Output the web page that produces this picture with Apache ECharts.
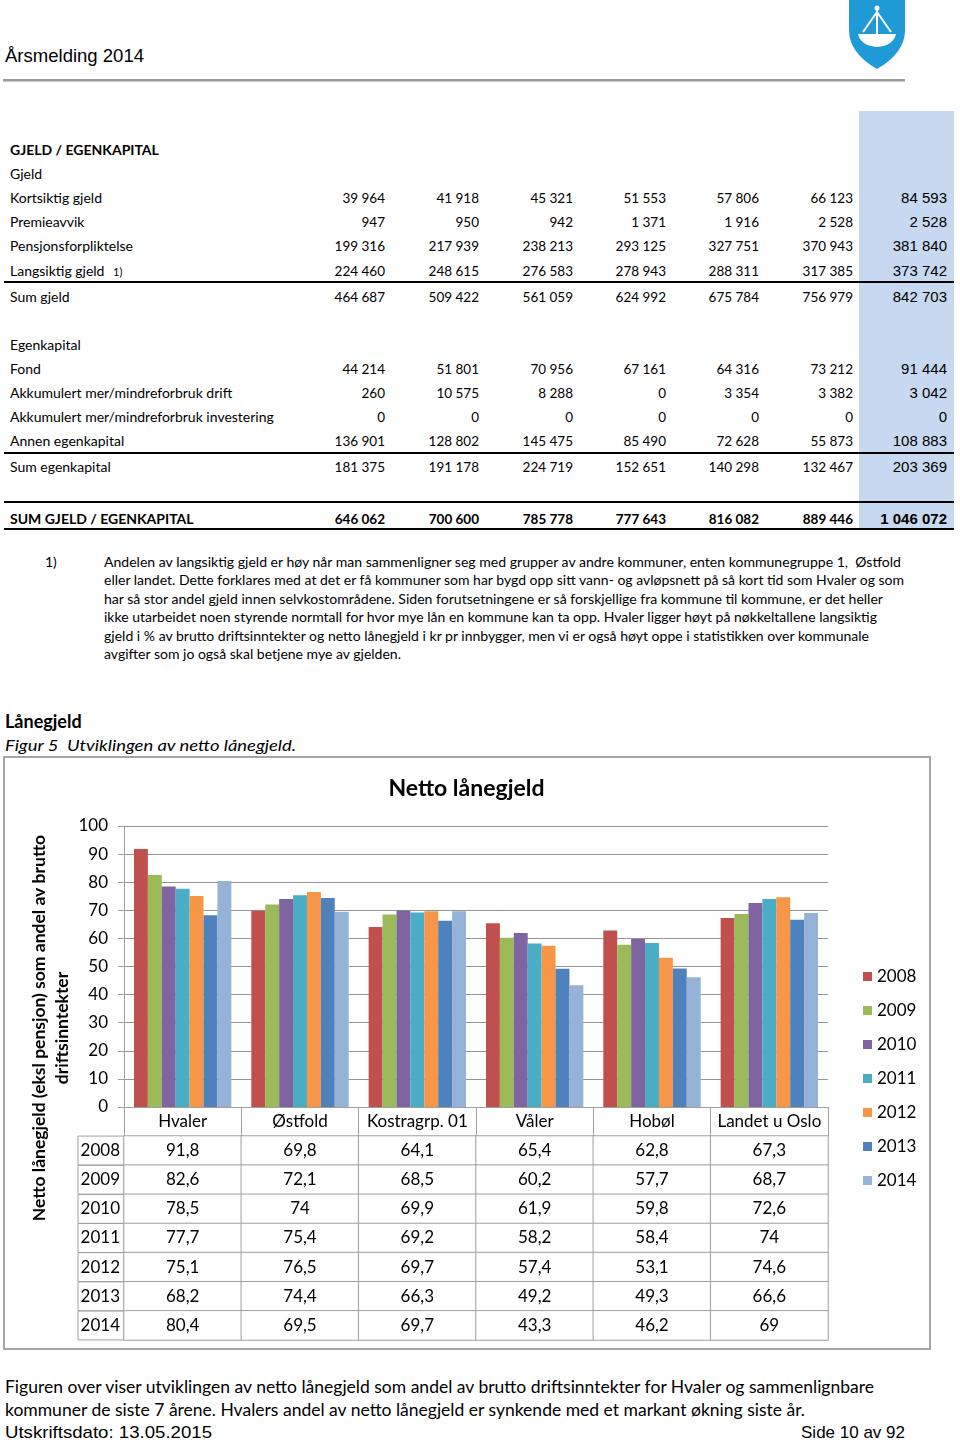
<!DOCTYPE html>
<html><head><meta charset="utf-8">
<script src="https://cdn.jsdelivr.net/npm/echarts@6/dist/echarts.min.js"></script>
<style>
html,body{margin:0;padding:0;background:#fff;}
body{width:960px;height:1442px;position:relative;overflow:hidden;font-family:Lato,'Noto Sans',sans-serif;color:#000;}
.t{position:absolute;white-space:pre;line-height:20px;height:20px;}
.arial{font-family:'Liberation Sans',Arial,sans-serif;}
</style></head><body>
<svg style="position:absolute;left:0;top:0" width="960" height="90">
  <path d="M849,0 L905,0 L905,30 Q905,53 877,69 Q849,53 849,30 Z" fill="#1f9ad6"/>
  <path d="M858,34 L896,34 Q893,46 877,47 Q861,46 858,34 Z" fill="#fff"/>
  <path d="M877,8 L877,34 M877,12 L863,32 M877,12 L891,32" stroke="#fff" stroke-width="2" fill="none"/>
  <circle cx="877" cy="8" r="2.5" fill="#fff"/>
  <rect x="3" y="79" width="902" height="2.5" fill="#9a9a9a"/>
</svg>
<div style="position:absolute;left:859px;top:111px;width:95px;height:418px;background:#c6d9f1;"></div>
<div id="page"></div>
<div style="position:absolute;left:3px;top:756px;width:928px;height:594px;border:2px solid #a6a6a6;box-sizing:border-box;"></div>
<div id="chart" style="position:absolute;left:4px;top:757px;width:925px;height:591px;"></div>
<script>
// ---------- top table data ----------
const kortsiktigGjeld = ['39 964','41 918','45 321','51 553','57 806','66 123','84 593'];
const premieavvik = ['947','950','942','1 371','1 916','2 528','2 528'];
const pensjonsforpliktelse = ['199 316','217 939','238 213','293 125','327 751','370 943','381 840'];
const langsiktigGjeld = ['224 460','248 615','276 583','278 943','288 311','317 385','373 742'];
const sumGjeld = ['464 687','509 422','561 059','624 992','675 784','756 979','842 703'];
const fond = ['44 214','51 801','70 956','67 161','64 316','73 212','91 444'];
const akkDrift = ['260','10 575','8 288','0','3 354','3 382','3 042'];
const akkInvestering = ['0','0','0','0','0','0','0'];
const annenEgenkapital = ['136 901','128 802','145 475','85 490','72 628','55 873','108 883'];
const sumEgenkapital = ['181 375','191 178','224 719','152 651','140 298','132 467','203 369'];
const sumGjeldEgenkapital = ['646 062','700 600','785 778','777 643','816 082','889 446','1 046 072'];

const footnoteLines = [
 'Andelen av langsiktig gjeld er høy når man sammenligner seg med grupper av andre kommuner, enten kommunegruppe 1,  Østfold',
 'eller landet. Dette forklares med at det er få kommuner som har bygd opp sitt vann- og avløpsnett på så kort tid som Hvaler og som',
 'har så stor andel gjeld innen selvkostområdene. Siden forutsetningene er så forskjellige fra kommune til kommune, er det heller',
 'ikke utarbeidet noen styrende normtall for hvor mye lån en kommune kan ta opp. Hvaler ligger høyt på nøkkeltallene langsiktig',
 'gjeld i % av brutto driftsinntekter og netto lånegjeld i kr pr innbygger, men vi er også høyt oppe i statistikken over kommunale',
 'avgifter som jo også skal betjene mye av gjelden.'
];
const bottomLines = [
 'Figuren over viser utviklingen av netto lånegjeld som andel av brutto driftsinntekter for Hvaler og sammenlignbare',
 'kommuner de siste 7 årene. Hvalers andel av netto lånegjeld er synkende med et markant økning siste år.'
];

// ---------- chart data ----------
const categories = ['Hvaler','Østfold','Kostragrp. 01','Våler','Hobøl','Landet u Oslo'];
const years = ['2008','2009','2010','2011','2012','2013','2014'];
const v2008 = [91.8, 69.8, 64.1, 65.4, 62.8, 67.3];
const v2009 = [82.6, 72.1, 68.5, 60.2, 57.7, 68.7];
const v2010 = [78.5, 74, 69.9, 61.9, 59.8, 72.6];
const v2011 = [77.7, 75.4, 69.2, 58.2, 58.4, 74];
const v2012 = [75.1, 76.5, 69.7, 57.4, 53.1, 74.6];
const v2013 = [68.2, 74.4, 66.3, 49.2, 49.3, 66.6];
const v2014 = [80.4, 69.5, 69.7, 43.3, 46.2, 69];
const yMin = 0, yMax = 100, yStep = 10;

// ---------- page text ----------
const page = document.getElementById('page');
function put(text, x, y, opts) {
  opts = opts || {};
  const d = document.createElement('div');
  d.className = 't' + (opts.cls ? ' ' + opts.cls : '');
  d.textContent = text;
  d.style.fontSize = (opts.size || 14) + 'px';
  if (opts.bold) d.style.fontWeight = 'bold';
  if (opts.italic) d.style.fontStyle = 'italic';
  if (opts.right) { d.style.left = (x - 300) + 'px'; d.style.width = '300px'; d.style.textAlign = 'right'; }
  else d.style.left = x + 'px';
  d.style.top = (y - 10) + 'px';
  if (opts.w) d.dataset.w = opts.w;
  page.appendChild(d);
  return d;
}
function hline(y, h) {
  const d = document.createElement('div');
  d.style.cssText = 'position:absolute;left:4px;width:950px;background:#000;top:' + (y - h/2) + 'px;height:' + h + 'px;';
  page.appendChild(d);
}

put('Årsmelding 2014', 5, 56, {size:19, cls:'arial', w:139});

const colRight = [385, 479, 573, 666, 759, 853, 947];
const tableRows = [
  ['GJELD / EGENKAPITAL', null, 150, true],
  ['Gjeld', null, 174, false],
  ['Kortsiktig gjeld', kortsiktigGjeld, 198, false],
  ['Premieavvik', premieavvik, 222, false],
  ['Pensjonsforpliktelse', pensjonsforpliktelse, 246, false],
  ['Langsiktig gjeld', langsiktigGjeld, 271, false],
  ['Sum gjeld', sumGjeld, 297, false],
  ['Egenkapital', null, 345, false],
  ['Fond', fond, 369, false],
  ['Akkumulert mer/mindreforbruk drift', akkDrift, 393, false],
  ['Akkumulert mer/mindreforbruk investering', akkInvestering, 417, false],
  ['Annen egenkapital', annenEgenkapital, 441, false],
  ['Sum egenkapital', sumEgenkapital, 467, false],
  ['SUM GJELD / EGENKAPITAL', sumGjeldEgenkapital, 519, true]
];
tableRows.forEach(r => {
  put(r[0], 10, r[2], {size:14, bold:r[3]});
  if (r[1]) r[1].forEach((v, i) => {
    if (i === 6) put(v, colRight[i], r[2], {size:15, cls:'arial', right:true, bold:r[3]});
    else put(v, colRight[i], r[2], {size:13.5, right:true, bold:r[3]});
  });
});
put('1)', 113, 272, {size:11});
hline(282, 2); hline(453, 2); hline(502, 2); hline(529, 2);

put('1)', 45, 562, {size:14});
const fnW = [797, 800, 779, 773, 765, 297];
footnoteLines.forEach((l, i) => put(l, 104, 562 + i * 18.4, {size:14, w:fnW[i]}));

put('Lånegjeld', 5, 721, {size:18, bold:true});
put('Figur 5  Utviklingen av netto lånegjeld.', 5, 745, {size:16, italic:true, w:291});

const bW = [869, 800];
bottomLines.forEach((l, i) => put(l, 5, 1387 + i * 23, {size:17, w:bW[i]}));
put('Utskriftsdato: 13.05.2015', 5, 1433, {size:17, cls:'arial', w:207});
put('Side 10 av 92', 905, 1433, {size:17, cls:'arial', right:true});

function fit() {
  document.querySelectorAll('[data-w]').forEach(el => {
    el.style.transform = '';
    const w = el.getBoundingClientRect().width;
    const s = parseFloat(el.dataset.w) / w;
    el.style.transformOrigin = 'left center';
    el.style.transform = 'scaleX(' + s + ')';
  });
}
fit();

// ---------- chart ----------
const FONT = 'Lato, "Noto Sans", sans-serif';
const colors = ['#c0504d','#9bbb59','#8064a2','#4bacc6','#f79646','#4f81bd','#95b3d7'];
const seriesValues = [v2008, v2009, v2010, v2011, v2012, v2013, v2014];
const tableData = [];
seriesValues.forEach((vals, yi) => vals.forEach((v, ci) => tableData.push([ci, yi, v])));
const grey = '#a0a0a0';

const chart = echarts.init(document.getElementById('chart'), null, {renderer:'canvas'});
chart.setOption({
  animation: false,
  color: colors,
  textStyle: {fontFamily: FONT},
  title: {text: 'Netto lånegjeld', left: 'center', top: 15,
    textStyle: {fontSize: 23, fontWeight: 'bold', color: '#000', fontFamily: FONT}},
  legend: {orient: 'vertical', left: 854, top: 206, itemWidth: 9, itemHeight: 9, itemGap: 17,
    icon: 'rect', data: years, selectedMode: false,
    textStyle: {fontSize: 17, color: '#000', lineHeight: 17, fontFamily: FONT}},
  grid: [
    {left: 120, top: 69, width: 704, height: 281},
    {left: 120, top: 379, width: 704, height: 204}
  ],
  xAxis: [
    {type: 'category', gridIndex: 0, data: categories,
      axisLine: {lineStyle: {color: grey}},
      axisTick: {show: true, length: 29, lineStyle: {color: grey}},
      axisLabel: {fontSize: 17, color: '#000', margin: 6, interval: 0, fontFamily: FONT}},
    {type: 'category', gridIndex: 1, data: categories, show: false}
  ],
  yAxis: [
    {type: 'value', gridIndex: 0, min: yMin, max: yMax, interval: yStep,
      axisLine: {show: true, lineStyle: {color: grey}},
      axisTick: {show: true, length: 6, lineStyle: {color: grey}},
      splitLine: {lineStyle: {color: '#949494', width: 1}},
      axisLabel: {fontSize: 17, color: '#000', margin: 16, fontFamily: FONT}},
    {type: 'category', gridIndex: 1, data: years, inverse: true,
      axisLine: {show: false}, axisTick: {show: false}, splitLine: {show: false},
      axisLabel: {interval: 0, margin: 0, fontSize: 17, color: '#000', fontFamily: FONT,
        width: 38, height: 29, lineHeight: 29, padding: [0, 4, 0, 4],
        borderColor: grey, borderWidth: 1, align: 'right', verticalAlign: 'middle'}}
  ],
  series: years.map((y, i) => ({
    name: y, type: 'bar', xAxisIndex: 0, yAxisIndex: 0,
    data: seriesValues[i], barGap: '0%', barCategoryGap: '17%',
    emphasis: {disabled: true}
  })).concat([{
    name: 'table', type: 'heatmap', xAxisIndex: 1, yAxisIndex: 1, data: tableData,
    itemStyle: {color: '#fff', borderColor: grey, borderWidth: 1},
    label: {show: true, fontSize: 17, color: '#000', fontFamily: FONT,
      formatter: p => String(p.value[2]).replace('.', ',')},
    emphasis: {disabled: true}
  }]),
  graphic: [{
    type: 'text', x: 47, y: 271, rotation: Math.PI / 2,
    style: {text: 'Netto lånegjeld (eksl pensjon) som andel av brutto\ndriftsinntekter',
      fontSize: 17.5, fontWeight: 'bold', fontFamily: FONT, fill: '#000',
      align: 'center', verticalAlign: 'middle', lineHeight: 23}
  }]
});
window.addEventListener('load', fit);
</script>
</body></html>
